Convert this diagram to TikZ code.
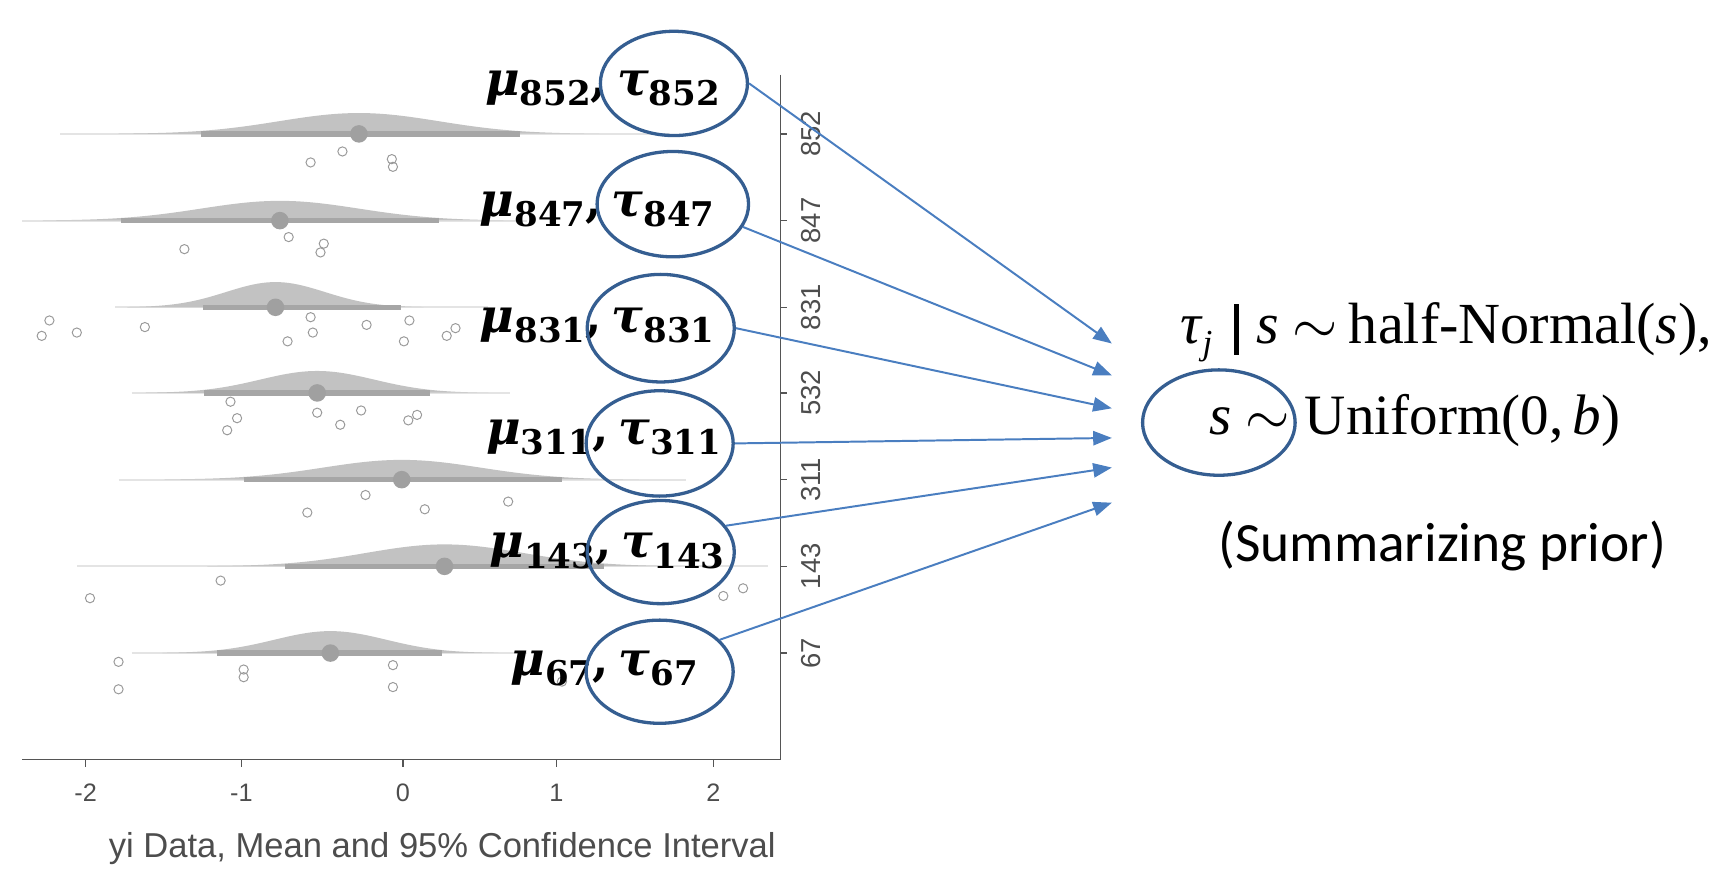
\RequirePackage{fix-cm}
\documentclass[tikz,border=0pt]{standalone}
\usepackage{amsmath}
\usepackage{fontspec}
\setmainfont{Liberation Serif}
\newfontfamily\arialf{Liberation Sans}
\newfontfamily\calib{Carlito}
\newfontfamily\djs{DejaVu Serif}
\usetikzlibrary{shapes.geometric,arrows.meta}
\definecolor{circblue}{HTML}{355E91}
\definecolor{arrblue}{HTML}{4A7EC0}
\definecolor{densfill}{HTML}{C2C2C2}
\definecolor{barcol}{HTML}{A6A6A6}
\definecolor{dotcol}{HTML}{A0A0A0}
\definecolor{ptcol}{HTML}{9A9A9A}
\definecolor{thincol}{HTML}{E4E4E4}
\definecolor{axiscol}{HTML}{555555}
\definecolor{ticklab}{HTML}{4D4D4D}
\newcommand\distrow[8]{%
  \draw[thinline] (#7,#1) -- (#8,#1);
  \fill[densfill] ({#2-3*#3},#1) -- plot[domain={#2-3*#3}:{#2+3*#3},samples=60,smooth] (\x,{#1-#4*exp(-0.5*((\x-#2)/#3)^2)}) -- cycle;
  \draw[barline] (#5,#1) -- (#6,#1);
  \fill[dotcol] (#2,#1) circle (8);
}
\newcommand\mulab[1]{{\djs\bfseries{\itshape μ}\lower9.5pt\hbox{\fontsize{31}{33}\selectfont #1},\hspace{9pt}{\itshape τ}\lower9.5pt\hbox{\fontsize{31}{33}\selectfont #1}}}
\begin{document}
\begin{tikzpicture}[x=1pt,y=-1pt,
  thinline/.style={thincol,line width=2},
  barline/.style={barcol,line width=5},
  datapt/.style={ptcol,line width=0.9},
  ell/.style={ellipse,draw=circblue,line width=3,inner sep=0},
  lab/.style={inner sep=0,anchor=base west,font=\fontsize{43}{48}\selectfont},
  arr/.style={arrblue,line width=1.8,-{Triangle[length=17,width=13]}},
  xtick/.style={font=\arialf\fontsize{23}{26}\selectfont,text=ticklab},
  ytick/.style={font=\arialf\fontsize{25}{28}\selectfont,text=ticklab,rotate=90}
]
\useasboundingbox (0,0) rectangle (1568,794);
% distributions
\distrow{122}{327}{73}{19}{183}{474}{55}{610}
\distrow{201}{255}{72}{18}{110}{400}{20}{480}
\distrow{280}{251}{45}{23}{185}{365}{105}{445}
\distrow{358}{289}{52}{20}{186}{392}{120}{465}
\distrow{437}{366}{72}{18}{222}{512}{108}{625}
\distrow{516}{405}{72}{20}{260}{550}{70}{700}
\distrow{595}{301}{51}{20}{198}{403}{120}{480}
% data points
\foreach \p in {(283,148),(312,138),(357,145),(358,152),
  (168,227),(263,216),(295,222),(292,230),
  (45,292),(38,306),(70,303),(132,298),(283,289),(285,303),(262,311),(334,296),(373,292),(368,311),(407,306),(415,299),
  (210,366),(216,381),(207,392),(289,376),(310,387),(329,374),(372,383),(380,378),
  (333,451),(280,467),(387,464),(463,457),
  (82,545),(201,529),(659,543),(677,536),
  (108,603),(108,628),(222,610),(222,617),(358,606),(358,626),(512,621)}
  \draw[datapt] \p circle (4.2);
% axes
\coordinate (o) at (711,692);
\coordinate (ytop) at (711,68);
\coordinate (xl) at (20,692);
\draw[axiscol,line width=1.6] (ytop) -- (o) -- (xl);
\foreach \v/\xx in {-2/78,-1/220,0/367,1/507,2/650}{
  \draw[axiscol,line width=1.4] (\xx,692) -- (\xx,699);
  \node[xtick] (xt\xx) at (\xx,722) {\v};
}
\foreach \v/\yy in {852/122,847/201,831/280,532/358,311/437,143/516,67/595}{
  \draw[axiscol,line width=1.4] (711,\yy) -- (717,\yy);
  \node[ytick] (yt\v) at (739,\yy) {\v};
}
\node[font=\arialf\fontsize{31.5}{34}\selectfont,text=ticklab] (xtitle) at (403,773) {yi Data, Mean and 95\% Confidence Interval};
% labels
\node[lab] (l852) at (442,87) {\mulab{852}};
\node[lab] (l847) at (437,197) {\mulab{847}};
\node[lab] (l831) at (437,303) {\mulab{831}};
\node[lab] (l311) at (443,405) {\mulab{311}};
\node[lab] (l143) at (446,508) {\mulab{143}};
\node[lab] (l67) at (465,615) {\mulab{67}};
% ellipses
\node[ell,minimum width=134,minimum height=95] (e852) at (614,76) {};
\node[ell,minimum width=138,minimum height=96] (e847) at (613,186) {};
\node[ell,minimum width=134,minimum height=98] (e831) at (602,299) {};
\node[ell,minimum width=134,minimum height=96] (e311) at (601,404) {};
\node[ell,minimum width=134,minimum height=94] (e143) at (602,503) {};
\node[ell,minimum width=134,minimum height=94] (e67) at (601,612) {};
% targets
\coordinate (t852) at (1013,313);
\coordinate (t847) at (1013,342);
\coordinate (t831) at (1013,372);
\coordinate (t311) at (1013,399);
\coordinate (t143) at (1013,426);
\coordinate (t67) at (1013,458);
\draw[arr] (e852.east) -- (t852);
\draw[arr] (e847.-18) -- (t847);
\draw[arr] (e831.east) -- (t831);
\draw[arr] (e311.east) -- (t311);
\draw[arr] (e143.22) -- (t143);
\draw[arr] (e67.28) -- (t67);
% right side
\node[inner sep=0,anchor=base west,font=\fontsize{53}{57}\selectfont] (prior1) at (1075,313) {\textit{τ}\lower10pt\hbox{\fontsize{32}{34}\selectfont\textit{j}}\hspace{20pt}\rule[-10pt]{4.5pt}{46pt}\hspace{16pt}\textit{s}\hspace{12pt}$\sim$\hspace{10pt}half-Normal(\textit{s}),};
\node[inner sep=0,anchor=base west,font=\fontsize{52}{56}\selectfont] (prior2) at (1102,396) {\textit{s}\hspace{12pt}$\sim$\hspace{14pt}Uniform(0,\,\textit{b})};
\node[ell,minimum width=139,minimum height=96] (es) at (1110.5,385) {};
\node[inner sep=0,font=\calib\fontsize{50.5}{54}\selectfont] (summ) at (1314,497) {(Summarizing prior)};
\end{tikzpicture}
\end{document}
